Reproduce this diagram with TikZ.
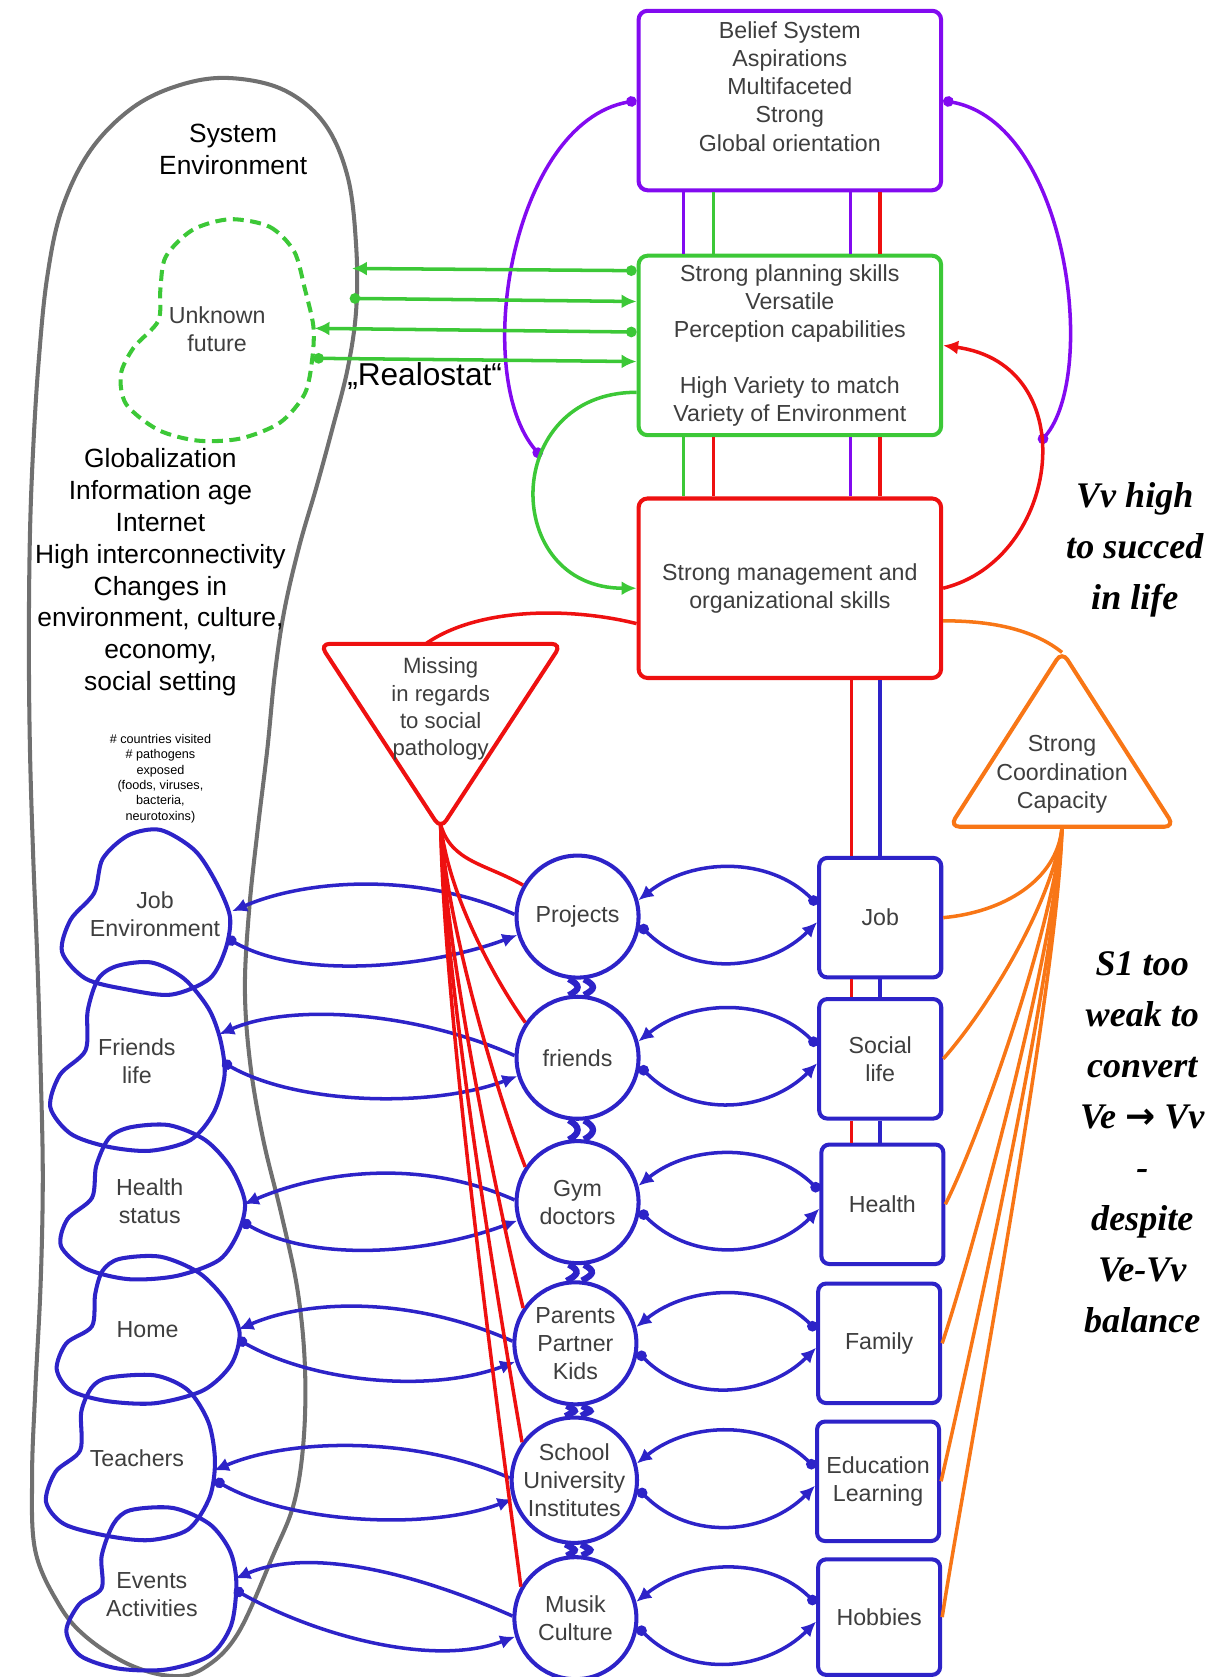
\documentclass[tikz,border=0pt]{standalone}
\usepackage{fontspec}
\setmainfont{Liberation Sans}
\newfontfamily\handfont{Liberation Serif}
\newfontfamily\arrowfont{DejaVu Sans}
\usetikzlibrary{arrows.meta}
\definecolor{vsmpurple}{RGB}{130,10,240}
\definecolor{vsmgreen}{RGB}{60,200,55}
\definecolor{vsmred}{RGB}{238,16,16}
\definecolor{vsmblue}{RGB}{45,35,200}
\definecolor{vsmorange}{RGB}{248,118,22}
\definecolor{envgray}{RGB}{112,112,112}
\definecolor{labelgray}{RGB}{62,62,62}

\begin{document}
\begin{tikzpicture}[
        x=0.2139mm, y=-0.2139mm,
        every node/.style={align=center, text=labelgray, font=\fontsize{13.2}{16}\selectfont},
        sysbox/.style={rectangle, rounded corners=1.8mm, line width=2.3pt, fill=white, minimum width=60.5mm, minimum height=35.9mm},
        areabox/.style={rectangle, rounded corners=1.6mm, draw=vsmblue, line width=2.3pt, fill=white, minimum width=24.4mm, minimum height=23.9mm},
        unit/.style={circle, draw=vsmblue, line width=2.3pt, fill=white, minimum size=24.4mm, inner sep=0pt},
        blob/.style={draw=vsmblue, line width=2.3pt},
        envtext/.style={text=black, font=\fontsize{15}{18.2}\selectfont},
        handtext/.style={text=black, font=\handfont\bfseries\itshape\fontsize{20.5}{29}\selectfont},
        conn/.style={line width=2pt},
        arrow/.style={conn, -{Latex[length=3mm, width=2.8mm]}},
        dotarrow/.style={conn, {Circle[length=2.1mm]}-{Latex[length=3mm, width=2.8mm]}},
        dotline/.style={conn, {Circle[length=2.1mm]}-{Circle[length=2.1mm]}},
        twinlink/.style={draw=vsmblue, line width=3.6pt}
    ]
        \useasboundingbox (0,0) rectangle (1151,1568);

        % System environment
        \draw[envgray, line width=2.3pt] plot[smooth cycle, tension=0.6] coordinates {
            (215,73) (265,84) (303,115) (325,165) (333,230) (333,290) (325,345) (311,400)
            (296,455) (280,510) (266,570) (257,630) (250,700) (241,775) (233,850) (229,925)
            (234,995) (246,1065) (263,1135) (278,1205) (285,1275) (284,1345) (275,1405) (255,1455)
            (222,1528) (190,1560) (160,1567) (120,1556) (80,1530) (55,1500) (33,1450) (30,1380)
            (33,1300) (38,1200) (40,1100) (38,1000) (35,900) (31,800) (28,700) (27,600)
            (28,500) (31,420) (36,340) (44,260) (58,195) (85,140) (125,100) (170,79)};
        \node[envtext] (sysenv) at (218,140) {System\\Environment};
        \node[envtext] (trends) at (150,535) {Globalization\\Information age\\Internet\\High interconnectivity\\Changes in\\environment, culture,\\economy,\\social setting};
        \node[text=black, font=\fontsize{7.2}{8.7}\selectfont] (exposure) at (150,728) {\# countries visited\\\# pathogens\\exposed\\(foods, viruses,\\bacteria,\\neurotoxins)};

        % Unknown future
        \draw[vsmgreen, line width=2.3pt, dash pattern=on 2.2mm off 1.3mm] plot[smooth cycle] coordinates {
            (215,205) (252,212) (275,235) (285,270) (293,305) (292,335) (285,368) (262,395) (225,410)
            (185,412) (148,402) (118,378) (113,350) (125,325) (148,300) (150,270) (155,240) (180,215)};
        \node (future) at (203,308) {Unknown\\future};
        \coordinate (fut-in) at (294,307);
        \coordinate (fut-out) at (293,335);
        \coordinate (env-in) at (329,251);
        \coordinate (env-out) at (327,279);
        \node[text=black, font=\fontsize{18}{20}\selectfont] (realo) at (397,352) {„Realostat“};

        % Environment blobs
        \draw[blob] plot[smooth cycle] coordinates {(150,776) (182,795) (202,825) (215,857) (211,887) (196,915) (160,930) (118,925) (80,915) (58,890) (66,860) (88,835) (96,803) (120,781)};
        \draw[blob] plot[smooth cycle] coordinates {(110,903) (142,900) (172,915) (195,943) (206,972) (210,1005) (200,1040) (178,1066) (140,1076) (100,1072) (66,1060) (47,1035) (56,1005) (80,982) (82,945) (92,915)};
        \draw[blob] plot[smooth cycle] coordinates {(122,1054) (158,1052) (192,1066) (216,1092) (229,1124) (223,1152) (205,1178) (165,1193) (120,1196) (80,1186) (57,1165) (63,1140) (86,1120) (90,1090) (102,1064)};
        \draw[blob] plot[smooth cycle] coordinates {(112,1177) (150,1175) (186,1190) (211,1216) (224,1246) (216,1276) (190,1300) (145,1312) (100,1310) (66,1300) (53,1280) (62,1256) (86,1240) (89,1210) (96,1188)};
        \draw[blob] plot[smooth cycle] coordinates {(102,1288) (145,1286) (176,1300) (195,1330) (201,1366) (196,1400) (176,1430) (140,1440) (100,1436) (60,1425) (43,1404) (52,1376) (75,1356) (76,1320) (86,1297)};
        \draw[blob] plot[smooth cycle] coordinates {(122,1412) (162,1410) (196,1425) (215,1450) (221,1480) (216,1520) (196,1548) (155,1561) (110,1560) (75,1548) (62,1525) (74,1500) (95,1485) (95,1455) (106,1425)};
        \node (jobenv) at (145,855) {Job\\Environment};
        \node (friendlife) at (128,992) {Friends\\life};
        \node (healthstat) at (140,1123) {Health\\status};
        \node (home) at (138,1243) {Home};
        \node (teachers) at (128,1363) {Teachers};
        \node (events) at (142,1491) {Events\\Activities};
        \coordinate (jobenv-a) at (217,852);  \coordinate (jobenv-b) at (212,877);
        \coordinate (friend-a) at (205,967);  \coordinate (friend-b) at (208,993);
        \coordinate (hstat-a) at (228,1126);  \coordinate (hstat-b) at (226,1142);
        \coordinate (home-a) at (223,1243);   \coordinate (home-b) at (222,1252);
        \coordinate (teach-a) at (200,1375);  \coordinate (teach-b) at (201,1384);
        \coordinate (events-a) at (220,1476); \coordinate (events-b) at (219,1486);

        % Management system
        \node[sysbox, draw=vsmpurple] (belief) at (738.5,94) {Belief System\\Aspirations\\Multifaceted\\Strong\\Global orientation\\\mbox{}};
        \node[sysbox, draw=vsmgreen] (plan) at (738.5,323) {Strong planning skills\\Versatile\\Perception capabilities\\[16pt]High Variety to match\\Variety of Environment};
        \node[sysbox, draw=vsmred] (manage) at (738.5,550) {Strong management and\\organizational skills};

        % Triangles
        \draw[vsmred, line width=2.3pt, rounded corners=2mm] (412,602) -- (525,602) -- (412,775) -- (299,602) -- cycle;
        \node[font=\fontsize{12.6}{15.6}\selectfont] (missing) at (412,663) {Missing\\in regards\\to social\\pathology};
        \coordinate (miss-top) at (398,602);
        \coordinate (miss-apex) at (412,771);
        \draw[vsmorange, line width=2.3pt, rounded corners=2mm] (993,773) -- (888,773) -- (993,609) -- (1098,773) -- cycle;
        \node (coord) at (993,724) {Strong\\Coordination\\Capacity};
        \coordinate (coord-top) at (993,610);
        \coordinate (coord-apex) at (993,774);

        % Operations
        \node[areabox] (job) at (823,858) {Job};
        \node[areabox] (social) at (823,990) {Social\\life};
        \node[areabox] (health) at (825,1126) {Health};
        \node[areabox] (family) at (822,1256) {Family};
        \node[areabox] (educ) at (821,1385) {Education\\Learning};
        \node[areabox, minimum height=23.1mm] (hobby) at (822,1512) {Hobbies};

        \node[unit] (proj) at (540,857) {Projects};
        \node[unit] (friends) at (540,989) {friends};
        \node[unit] (gym) at (540,1124) {Gym\\doctors};
        \node[unit] (parents) at (538,1256) {Parents\\Partner\\Kids};
        \node[unit] (school) at (537,1384) {School\\University\\Institutes};
        \node[unit] (musik) at (538,1513) {Musik\\Culture};

        % Right-hand notes
        \node[handtext] (vvhigh) at (1061,514) {Vv high\\to succed\\in life};
        \node[handtext] (s1weak) at (1068,1068) {S1 too\\weak to\\convert\\Ve {\arrowfont\bfseries →} Vv\\-\\despite\\Ve-Vv\\balance};

        % Vertical channels
        \draw[conn, vsmpurple] (belief.south -| 639,0) -- (plan.north -| 639,0);
        \draw[conn, vsmgreen] (belief.south -| 667,0) -- (plan.north -| 667,0);
        \draw[conn, vsmpurple] (belief.south -| 795,0) -- (plan.north -| 795,0);
        \draw[conn, vsmred] (belief.south -| 823,0) -- (plan.north -| 823,0);
        \draw[conn, vsmgreen] (plan.south -| 639,0) -- (manage.north -| 639,0);
        \draw[conn, vsmred] (plan.south -| 667,0) -- (manage.north -| 667,0);
        \draw[conn, vsmpurple] (plan.south -| 795,0) -- (manage.north -| 795,0);
        \draw[conn, vsmred] (plan.south -| 823,0) -- (manage.north -| 823,0);
        \draw[conn, vsmred] (manage.south -| 796,0) -- (job.north -| 796,0);
        \draw[conn, vsmblue] (manage.south -| 823,0) -- (job.north -| 823,0);
        \draw[conn, vsmred] (job.south -| 796,0) -- (social.north -| 796,0);
        \draw[conn, vsmblue] (job.south -| 823,0) -- (social.north -| 823,0);
        \draw[conn, vsmred] (social.south -| 796,0) -- (health.north -| 796,0);
        \draw[conn, vsmblue] (social.south -| 823,0) -- (health.north -| 823,0);

        % Loops around the management boxes
        \draw[dotline, vsmpurple] (belief.west) .. controls +(-117,21) and +(-66,-77) .. (506,427) coordinate (purp-l);
        \draw[dotline, vsmpurple] (belief.east) .. controls +(117,21) and +(55,-64) .. (972,414) coordinate (purp-r);
        \draw[arrow, vsmred] (manage.east) .. controls +(110,-27) and +(133,18) .. (plan.east);
        \draw[arrow, vsmgreen] (plan.197) .. controls +(-127,0) and +(-127,0) .. (manage.west);
        \draw[conn, vsmred] (manage.193) .. controls +(-60,-15) and +(50,-35) .. (miss-top);
        \draw[conn, vsmorange] (manage.-12) .. controls +(50,0) and +(-25,-20) .. (coord-top);

        % Realostat
        \draw[dotarrow, vsmgreen] (plan.154.5) -- (env-in);
        \draw[dotarrow, vsmgreen] (env-out) -- (plan.164.4);
        \draw[dotarrow, vsmgreen] (plan.175.2) -- (fut-in);
        \draw[dotarrow, vsmgreen] (fut-out) -- (plan.186.5);

        % Units to operations
        \draw[dotarrow, vsmblue] (job.168) .. controls +(-45,-45) and +(50,-40) .. (proj.15);
        \draw[dotarrow, vsmblue] (proj.-8) .. controls +(50,50) and +(-45,45) .. (job.-176);
        \draw[dotarrow, vsmblue] (social.168) .. controls +(-45,-45) and +(50,-40) .. (friends.15);
        \draw[dotarrow, vsmblue] (friends.-8) .. controls +(50,50) and +(-45,45) .. (social.-176);
        \draw[dotarrow, vsmblue] (health.168) .. controls +(-45,-45) and +(50,-40) .. (gym.15);
        \draw[dotarrow, vsmblue] (gym.-8) .. controls +(50,50) and +(-45,45) .. (health.-176);
        \draw[dotarrow, vsmblue] (family.168) .. controls +(-45,-45) and +(50,-40) .. (parents.15);
        \draw[dotarrow, vsmblue] (parents.-8) .. controls +(50,50) and +(-45,45) .. (family.-176);
        \draw[dotarrow, vsmblue] (educ.168) .. controls +(-45,-45) and +(50,-40) .. (school.15);
        \draw[dotarrow, vsmblue] (school.-8) .. controls +(50,50) and +(-45,45) .. (educ.-176);
        \draw[dotarrow, vsmblue] (hobby.168) .. controls +(-45,-45) and +(50,-40) .. (musik.15);
        \draw[dotarrow, vsmblue] (musik.-8) .. controls +(50,50) and +(-45,45) .. (hobby.-176);

        % Units to environment
        \draw[arrow, vsmblue] (proj.178) .. controls +(-90,-40) and +(70,-30) .. (jobenv-a);
        \draw[dotarrow, vsmblue] (jobenv-b) .. controls +(70,40) and +(-80,30) .. (proj.197);
        \draw[arrow, vsmblue] (friends.178) .. controls +(-90,-40) and +(70,-30) .. (friend-a);
        \draw[dotarrow, vsmblue] (friend-b) .. controls +(70,40) and +(-80,30) .. (friends.197);
        \draw[arrow, vsmblue] (gym.178) .. controls +(-90,-40) and +(70,-30) .. (hstat-a);
        \draw[dotarrow, vsmblue] (hstat-b) .. controls +(70,40) and +(-80,30) .. (gym.197);
        \draw[arrow, vsmblue] (parents.178) .. controls +(-90,-40) and +(70,-30) .. (home-a);
        \draw[dotarrow, vsmblue] (home-b) .. controls +(70,40) and +(-80,30) .. (parents.197);
        \draw[arrow, vsmblue] (school.178) .. controls +(-90,-40) and +(70,-30) .. (teach-a);
        \draw[dotarrow, vsmblue] (teach-b) .. controls +(70,40) and +(-80,30) .. (school.197);
        \draw[arrow, vsmblue] (musik.178) .. controls +(-90,-40) and +(70,-30) .. (events-a);
        \draw[dotarrow, vsmblue] (events-b) .. controls +(70,40) and +(-80,30) .. (musik.197);

        % Links between units
        \draw[twinlink] (proj.-98) .. controls +(11,6) and +(11,-6) .. (friends.98);
        \draw[twinlink] (proj.-84) .. controls +(11,6) and +(11,-6) .. (friends.84);
        \draw[twinlink] (friends.-98) .. controls +(11,6) and +(11,-6) .. (gym.98);
        \draw[twinlink] (friends.-84) .. controls +(11,6) and +(11,-6) .. (gym.84);
        \draw[twinlink] (gym.-98) .. controls +(11,6) and +(11,-6) .. (parents.98);
        \draw[twinlink] (gym.-84) .. controls +(11,6) and +(11,-6) .. (parents.84);
        \draw[twinlink] (parents.-98) .. controls +(11,6) and +(11,-6) .. (school.98);
        \draw[twinlink] (parents.-84) .. controls +(11,6) and +(11,-6) .. (school.84);
        \draw[twinlink] (school.-98) .. controls +(11,6) and +(11,-6) .. (musik.98);
        \draw[twinlink] (school.-84) .. controls +(11,6) and +(11,-6) .. (musik.84);

        % Missing: social pathology
        \draw[conn, vsmred] (miss-apex) .. controls +(10,35) and +(-35,-20) .. (proj.150);
        \draw[conn, vsmred] (miss-apex) .. controls +(8,70) and +(-25,-35) .. (friends.146);
        \draw[conn, vsmred] (miss-apex) .. controls +(6,100) and +(-20,-50) .. (gym.146);
        \draw[conn, vsmred] (miss-apex) .. controls +(5,130) and +(-15,-60) .. (parents.146);
        \draw[conn, vsmred] (miss-apex) .. controls +(4,160) and +(-12,-70) .. (school.144);
        \draw[conn, vsmred] (miss-apex) .. controls +(3,190) and +(-10,-80) .. (musik.150);

        % Coordination
        \draw[conn, vsmorange] (job.east) .. controls +(55,-5) and +(-5,50) .. (coord-apex);
        \draw[conn, vsmorange] (social.east) .. controls +(40,-45) and +(-8,70) .. (coord-apex);
        \draw[conn, vsmorange] (health.east) .. controls +(35,-70) and +(-8,90) .. (coord-apex);
        \draw[conn, vsmorange] (family.east) .. controls +(30,-90) and +(-6,110) .. (coord-apex);
        \draw[conn, vsmorange] (educ.east) .. controls +(25,-110) and +(-5,130) .. (coord-apex);
        \draw[conn, vsmorange] (hobby.east) .. controls +(20,-130) and +(-4,150) .. (coord-apex);
    \end{tikzpicture}
\end{document}
